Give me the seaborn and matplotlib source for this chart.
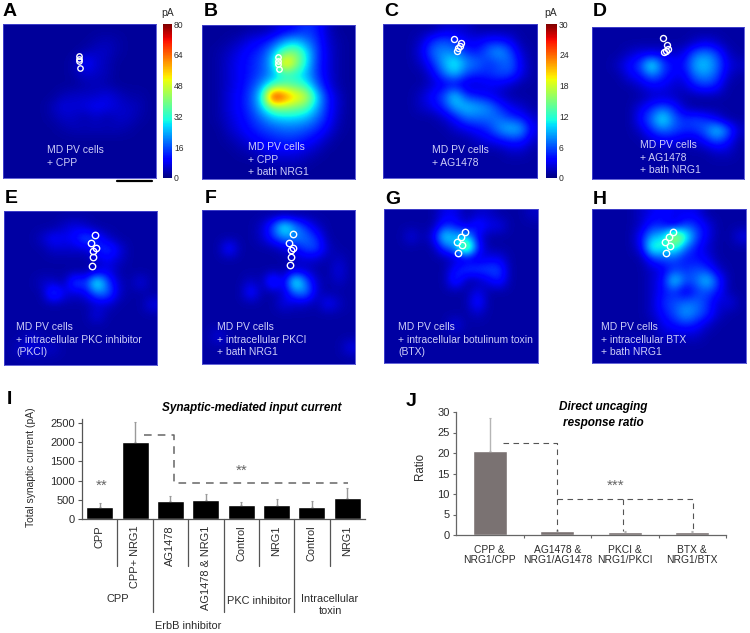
import numpy as np
import matplotlib
matplotlib.use("Agg")
import matplotlib.pyplot as plt
from matplotlib.lines import Line2D
import seaborn as sns

sns.set_theme(style="white")
plt.rcParams['font.family'] = ['Liberation Sans', 'DejaVu Sans']

W, H = 750, 633

# ---------- heat-map readings (pA, coarse 14x14 grids)
grid_a = [[2]*14,
 [2,2,2,2,2,2,2,2,3,4,3,2,2,2],
 [2,2,2,2,2,2,2,3,5,5,3,2,2,2],
 [2,2,2,2,2,2,3,11,6,4,2,2,2,2],
 [2,2,2,2,2,2,3,6,5,4,2,2,2,2],
 [2,2,2,2,2,2,2,3,4,3,2,2,2,2],
 [2,2,2,2,2,4,5,5,5,7,5,3,3,2],
 [2,2,2,2,4,7,6,7,9,8,6,5,4,2],
 [2,2,2,2,3,5,5,3,5,3,5,5,3,2],
 [2,2,2,2,2,3,4,4,4,4,4,3,2,2],
 [2]*14,[2]*14,[2]*14,[2]*14]
grid_b = [[2,2,2,2,3,3,5,8,10,14,12,5,2,2],
 [2,2,3,5,8,10,14,22,26,20,14,6,3,2],
 [2,3,5,8,11,14,24,38,42,30,15,7,3,2],
 [2,3,6,9,12,16,26,62,46,30,14,7,3,2],
 [2,3,6,9,12,16,22,30,30,24,14,7,3,2],
 [2,3,6,9,14,22,34,38,36,32,18,8,3,2],
 [2,3,7,10,16,30,80,68,56,50,28,12,5,2],
 [2,3,7,10,15,26,40,42,40,36,24,12,5,2],
 [2,3,6,9,13,18,24,26,26,24,18,11,4,2],
 [2,2,5,8,11,14,16,18,18,16,13,8,3,2],
 [2,2,3,5,8,10,12,13,13,11,8,4,2,2],
 [2,2,2,3,4,6,8,8,8,6,4,2,2,2],
 [2,2,2,2,2,3,4,4,4,3,2,2,2,2],
 [2]*14]
grid_c = [[1,1,1,1,1,2,2,2,1,1,1,1,1,1],
 [1,1,1,2,5,6,5,3,3,4,4,3,1,1],
 [1,1,1,3,7,8,7,5,4,7,9,6,2,1],
 [1,1,1,2,5,9,12,8,7,5,6,7,3,1],
 [1,1,1,1,3,7,10,6,5,5,6,6,3,1],
 [1,1,1,1,2,3,3,2,2,3,3,2,1,1],
 [1,1,1,2,4,6,11,5,4,3,2,1,1,1],
 [1,1,1,2,3,5,9,10,9,8,5,3,2,1],
 [1,1,1,1,1,2,4,7,7,7,7,5,4,2],
 [1,1,1,1,1,1,2,3,4,5,8,10,9,3],
 [1,1,1,1,1,1,1,1,2,3,4,5,5,2],
 [1,1,1,1,1,1,1,1,1,1,1,2,2,1],
 [1]*14,[1]*14]
grid_d = [[1]*14,
 [1,1,1,1,1,1,1,1,1,2,3,2,1,1],
 [1,1,1,2,3,3,3,2,3,7,8,6,2,1],
 [1,1,2,4,6,13,6,4,4,9,10,7,3,2],
 [1,1,1,3,4,7,5,3,3,7,8,6,2,1],
 [1,1,1,1,2,3,3,2,2,4,5,4,1,1],
 [1,1,1,1,1,2,2,2,1,1,1,1,1,1],
 [1,1,1,1,3,5,7,5,2,1,1,1,1,1],
 [1,1,1,1,4,7,12,7,5,6,5,3,1,1],
 [1,1,1,1,2,5,7,6,5,5,7,11,7,2],
 [1,1,1,1,1,2,3,3,2,2,4,6,4,1],
 [1,1,1,1,1,1,1,1,1,1,1,2,2,1],
 [1]*14,[1]*14]
grid_e = [[1]*14,
 [1,1,1,1,1,2,3,2,1,1,1,1,1,1],
 [1,1,1,2,4,3,4,7,5,2,1,1,1,1],
 [1,1,1,1,2,2,2,2,4,6,3,1,1,1],
 [1,1,1,1,1,1,1,1,2,3,2,1,1,1],
 [1,1,1,1,1,1,1,1,2,3,1,1,1,1],
 [1,1,1,2,2,1,7,5,14,6,2,1,3,1],
 [1,1,1,1,7,3,2,3,7,7,2,1,1,1],
 [1,1,1,1,1,1,1,1,2,2,1,1,1,3],
 [1,1,1,1,1,1,1,1,3,1,1,1,1,1],
 [1]*14,
 [1,1,2,1,1,1,1,1,1,1,1,1,1,1],
 [1,2,3,2,2,1,1,1,1,1,1,1,1,1],
 [1]*14]
grid_f = [[1]*14,
 [1,1,1,1,1,2,6,13,8,5,2,1,1,1],
 [1,1,1,1,1,2,5,8,8,7,5,1,1,1],
 [1,1,5,1,1,1,1,2,3,6,6,2,1,1],
 [1,1,1,1,1,1,1,1,2,2,2,1,2,1],
 [1,1,1,1,1,1,1,1,2,2,1,1,3,1],
 [1,1,1,1,2,1,7,2,14,7,2,1,2,1],
 [1,1,1,1,5,1,1,2,7,8,2,1,1,1],
 [1,1,1,1,1,1,1,3,2,2,1,4,2,1],
 [1]*14,
 [1]*14,
 [1,3,1,1,1,1,1,1,1,1,1,1,1,1],
 [1,1,1,1,1,1,1,1,1,1,1,1,1,3],
 [1]*14]
grid_g = [[1,1,1,1,1,3,3,1,2,2,1,1,1,2],
 [1,1,1,1,1,5,4,2,5,3,3,1,1,1],
 [1,1,3,1,3,12,9,10,3,1,1,1,1,1],
 [1,1,1,1,1,6,8,20,5,1,1,1,1,1],
 [1,1,1,1,1,1,2,2,2,3,3,1,1,1],
 [1,1,1,1,1,1,4,6,6,6,6,1,1,1],
 [1,1,1,1,1,1,6,1,1,3,5,1,1,1],
 [1,1,1,1,1,1,1,1,3,1,1,1,1,1],
 [1,1,1,1,1,1,1,1,5,1,1,1,1,1],
 [1,1,1,1,1,1,1,1,2,1,1,1,1,1],
 [1,1,1,1,1,1,3,1,1,1,1,1,1,1],
 [1]*14,[1]*14,[1]*14]
grid_h = [[1,1,1,1,2,3,4,3,3,3,1,1,1,1],
 [1,1,1,1,2,5,4,2,6,5,3,1,1,1],
 [1,1,1,1,4,9,10,20,13,6,3,1,1,3],
 [1,1,1,1,3,14,11,13,7,4,2,1,1,1],
 [1,1,1,1,1,5,6,6,4,4,3,1,1,1],
 [1,1,1,1,1,2,3,5,5,6,5,2,1,1],
 [1,1,1,1,1,2,4,12,6,7,11,5,1,1],
 [1,1,1,1,1,2,4,5,2,5,6,4,1,1],
 [1,1,1,1,1,2,5,6,7,7,5,2,3,1],
 [1,1,1,1,1,2,4,6,9,7,5,2,1,1],
 [1,1,1,1,1,1,3,4,5,4,2,1,1,1],
 [1,1,1,1,1,1,2,2,2,2,1,1,1,1],
 [1,1,1,2,2,1,1,1,1,1,1,1,1,1],
 [1]*14]

# soma positions (column, row in grid units)
cells_a = [(6.91,2.88),(6.91,3.18),(6.91,3.36),(7.03,3.97)]
cells_b = [(6.91,2.91),(6.91,3.24),(6.91,3.58),(7.06,3.97)]
cells_c = [(6.48,1.36),(7.12,1.76),(7.03,2.0),(6.82,2.21),(6.7,2.42)]
cells_d = [(6.56,0.98),(6.93,1.69),(7.02,2.02),(6.78,2.24),(6.63,2.33)]
cells_e = [(8.33,2.15),(7.97,2.94),(8.39,3.36),(8.15,3.64),(8.15,4.21),(8.06,4.97)]
cells_f = [(8.33,2.15),(7.97,2.97),(8.33,3.42),(8.18,3.67),(8.15,4.24),(8.03,5.0)]
cells_g = [(7.33,2.09),(6.97,2.55),(6.64,2.97),(7.09,3.24),(6.73,4.0)]
cells_h = [(7.36,2.09),(6.97,2.55),(6.64,2.97),(7.09,3.33),(6.7,4.0)]

text_a = ["MD PV cells", "+ CPP"]
text_b = ["MD PV cells", "+ CPP", "+ bath NRG1"]
text_c = ["MD PV cells", "+ AG1478"]
text_d = ["MD PV cells", "+ AG1478", "+ bath NRG1"]
text_e = ["MD PV cells", "+ intracellular PKC inhibitor", "(PKCI)"]
text_f = ["MD PV cells", "+ intracellular PKCI", "+ bath NRG1"]
text_g = ["MD PV cells", "+ intracellular botulinum toxin", "(BTX)"]
text_h = ["MD PV cells", "+ intracellular BTX", "+ bath NRG1"]

# ---------- bar chart I
i_labels = ["CPP", "CPP+ NRG1", "AG1478", "AG1478 & NRG1", "Control", "NRG1", "Control", "NRG1"]
i_values = [300, 2020, 480, 490, 365, 375, 325, 555]
i_errors = [130, 500, 130, 170, 85, 155, 135, 265]
i_yticks = [0, 500, 1000, 1500, 2000, 2500]

# ---------- bar chart J
j_labels = ["CPP &\nNRG1/CPP", "AG1478 &\nNRG1/AG1478", "PKCI &\nNRG1/PKCI", "BTX &\nNRG1/BTX"]
j_values = [20.4, 0.9, 0.85, 0.85]
j_errors = [8.2, 0.2, 0.2, 0.2]
j_yticks = [0, 5, 10, 15, 20, 25, 30]

fig = plt.figure(figsize=(W/100, H/100), dpi=100)

def px_axes(x0, y0, x1, y1):
    return fig.add_axes([x0/W, 1-y1/H, (x1-x0)/W, (y1-y0)/H])

def px_text(x, y, s, **kw):
    kw.setdefault('va', 'center')
    return fig.text(x/W, 1-y/H, s, **kw)

TXT = '#2b2b2b'

def map_panel(box, grid, vmax, cells, lines, text_xy, letter, letter_xy, radius, cbar_box=None, cticks=None):
    ax = px_axes(*box)
    data = np.array(grid, dtype=float)
    cax = px_axes(*cbar_box) if cbar_box else None
    sns.heatmap(data, ax=ax, cmap='jet', vmin=0, vmax=vmax, cbar=cbar_box is not None,
                cbar_ax=cax, xticklabels=False, yticklabels=False)
    ax.imshow(data, cmap='jet', vmin=0, vmax=vmax, extent=(0, 14, 14, 0),
              interpolation='bicubic', aspect='auto', zorder=2)
    ax.set_xlim(0, 14); ax.set_ylim(14, 0)
    xs, ys = zip(*cells)
    ax.plot(xs, ys, 'o', ms=radius*2*0.72, mfc='none', mec='white', mew=1.0, zorder=3)
    for sp in ax.spines.values():
        sp.set_visible(True); sp.set_color('#4a4ad0'); sp.set_linewidth(0.6); sp.set_zorder(4)
    for k, line in enumerate(lines):
        px_text(text_xy[0], text_xy[1] + k*12.6, line, color='#cdcdf8', fontsize=7.5, ha='left')
    px_text(letter_xy[0], letter_xy[1], letter, fontsize=14, fontweight='bold', color='black', ha='left')
    if cax is not None:
        cb = ax.collections[0].colorbar
        cb.set_ticks(cticks)
        cb.ax.tick_params(labelsize=6.2, length=0, pad=1.5, labelcolor=TXT)
        cb.outline.set_visible(False)
    return ax

map_panel((3,24,156,178), grid_a, 80, cells_a, text_a, (47,150), 'A', (3,11), 2.7, (163,24,172,178), [0,16,32,48,64,80])
map_panel((202,25,355,179), grid_b, 80, cells_b, text_b, (248,147), 'B', (204,11), 2.7)
map_panel((383,24,537,178), grid_c, 30, cells_c, text_c, (432,150), 'C', (384,11), 3, (546,24,557,178), [0,6,12,18,24,30])
map_panel((592,27,744,179), grid_d, 30, cells_d, text_d, (640,145), 'D', (593,11), 3)
map_panel((4,211,157,365), grid_e, 30, cells_e, text_e, (16,327), 'E', (5,199), 3.2)
map_panel((202,210,355,364), grid_f, 30, cells_f, text_f, (217,327), 'F', (205,199), 3.2)
map_panel((384,209,538,363), grid_g, 30, cells_g, text_g, (398,327), 'G', (385,200), 3.2)
map_panel((592,209,746,363), grid_h, 30, cells_h, text_h, (601,327), 'H', (593,200), 3.2)

px_text(168, 13, 'pA', fontsize=7.5, color=TXT, ha='center')
px_text(551, 13, 'pA', fontsize=7.5, color=TXT, ha='center')
fig.add_artist(Line2D([117/W, 152/W], [1-181/H, 1-181/H], color='black', lw=1.6))

# ---------- panel I
ax = px_axes(82, 419.3, 365, 519)
sns.barplot(x=list(range(8)), y=i_values, ax=ax, color='black', saturation=1, width=0.76, errorbar=None)
ax.errorbar(range(8), i_values, yerr=[[0]*8, i_errors], fmt='none', ecolor='#9a9a9a', elinewidth=1, capsize=1, capthick=0.8)
ax.set_xlim(-0.5, 7.5); ax.set_ylim(0, 2600)
ax.set_yticks(i_yticks)
ax.set_xticks(range(8))
ax.set_xticklabels(i_labels, rotation=90, va='top', ha='center', fontsize=7.9, color=TXT)
ax.tick_params(axis='x', length=0, pad=4.5)
ax.tick_params(axis='y', left=True, length=3, width=0.8, labelsize=8, labelcolor=TXT, pad=2, color='#555555')
sns.despine(ax=ax)
for s in ('left', 'bottom'):
    ax.spines[s].set_color('#555555'); ax.spines[s].set_linewidth(0.9)
px_per_i = (519-423.3)/2500
# dividers between categories, drawn below the axis
for pos, bottom in [(0.5,566),(1.5,612),(2.5,566),(3.5,612),(4.5,566),(5.5,612),(6.5,566)]:
    ax.plot([pos, pos], [0, -(bottom-519)/px_per_i], color='#555555', lw=0.9, clip_on=False)
ax.plot([1.245, 2.11, 2.11, 7.03], [2193, 2193, 948, 948], color='#666666', lw=1.1, dashes=(5, 4), clip_on=False)
px_text(102, 486, '**', fontsize=11, color='#666666', ha='center')
px_text(242, 471, '**', fontsize=11, color='#666666', ha='center')
px_text(31, 467, 'Total synaptic current (pA)', fontsize=7.4, color=TXT, rotation=90, ha='center')
px_text(252, 408, 'Synaptic-mediated input current', fontsize=8.5, fontweight='bold', fontstyle='italic', color='black', ha='center')
px_text(7, 400, 'I', fontsize=14, fontweight='bold', color='black', ha='left')
px_text(118, 599, 'CPP', fontsize=7.9, color=TXT, ha='center')
px_text(259, 601, 'PKC inhibitor', fontsize=7.9, color=TXT, ha='center')
px_text(330, 605, 'Intracellular\ntoxin', fontsize=7.9, color=TXT, ha='center', linespacing=1.15)
px_text(188, 626, 'ErbB inhibitor', fontsize=7.9, color=TXT, ha='center')

# ---------- panel J
ax = px_axes(456, 412, 726, 535)
sns.barplot(x=list(range(4)), y=j_values, ax=ax, color='#7a7272', saturation=1, width=0.5, errorbar=None)
ax.errorbar(range(4), j_values, yerr=[[0]*4, j_errors], fmt='none', ecolor='#b5b5b5', elinewidth=1, capsize=1, capthick=0.8)
ax.set_xlim(-0.5, 3.5); ax.set_ylim(0, 30)
ax.set_yticks(j_yticks)
ax.set_xticks([0.5, 1.5, 2.5, 3.5], minor=True)
ax.set_xticks(range(4))
ax.set_xticklabels(j_labels, fontsize=7.4, color=TXT, linespacing=1.05)
ax.tick_params(axis='x', which='major', length=0, pad=7)
ax.tick_params(axis='x', which='minor', bottom=True, length=2.5, width=0.8, color='#666666')
ax.tick_params(axis='y', left=True, length=2.5, width=0.8, labelsize=8, labelcolor=TXT, pad=2, color='#666666')
sns.despine(ax=ax)
for s in ('left', 'bottom'):
    ax.spines[s].set_color('#666666'); ax.spines[s].set_linewidth(0.9)
ax.plot([0.19, 0.99, 0.99], [22.5, 22.5, 0.9], color='#555555', lw=0.8, dashes=(5, 4))
ax.plot([0.99, 3.01, 3.01], [8.9, 8.9, 0.9], color='#555555', lw=0.8, dashes=(5, 4))
ax.plot([1.97, 1.97], [8.9, 0.9], color='#555555', lw=0.8, dashes=(5, 4))
ax.text(1.86, 12.1, '***', fontsize=11, color='#666666', ha='center', va='center')
px_text(420, 466, 'Ratio', fontsize=8.3, color=TXT, rotation=90, ha='center')
px_text(603, 415, 'Direct uncaging\nresponse ratio', fontsize=8.5, fontweight='bold', fontstyle='italic', color='black', ha='center', linespacing=1.4)
px_text(406, 401, 'J', fontsize=14, fontweight='bold', color='black', ha='left')

fig.savefig('out.png', dpi=100)
